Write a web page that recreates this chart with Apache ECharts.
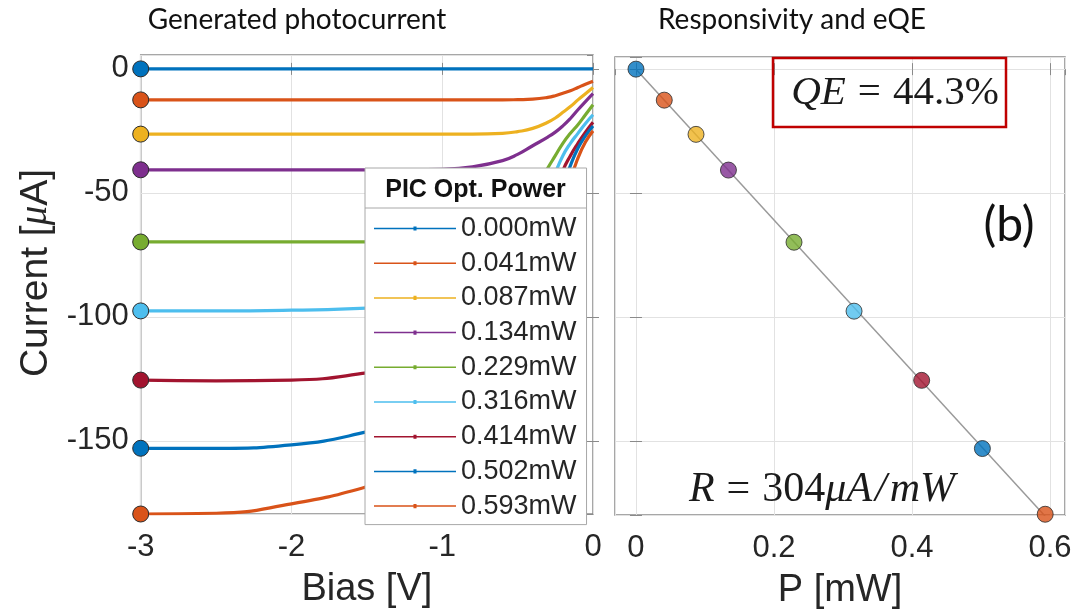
<!DOCTYPE html>
<html>
<head>
<meta charset="utf-8">
<script src="https://cdn.jsdelivr.net/npm/echarts@6/dist/echarts.min.js"></script>
<style>
html, body { margin: 0; padding: 0; background: #fff; }
#chart { width: 1076px; height: 616px; }
</style>
</head>
<body>
<div id="chart"></div>
<script>
// bias sweep (V) shared by all IV curves
var bias = [-3, -2.5, -2, -1.5, -1.2, -1, -0.8, -0.6, -0.5, -0.4, -0.3, -0.25, -0.2, -0.15, -0.1, -0.05, 0];

// photocurrent (uA) per optical power
var i0000 = [0, 0, 0, 0, 0, 0, 0, 0, 0, 0, 0, 0, 0, 0, 0, 0, 0];
var i0041 = [-12.5, -12.5, -12.5, -12.5, -12.5, -12.5, -12.5, -12.5, -12.4, -12.2, -11.5, -10.8, -9.8, -8.8, -7.5, -6.2, -5.0];
var i0087 = [-26.3, -26.3, -26.3, -26.3, -26.3, -26.3, -26.3, -26.0, -25.3, -24.0, -21.5, -19.8, -17.5, -15.2, -12.5, -10.0, -7.5];
var i0134 = [-40.7, -40.7, -40.7, -40.7, -40.7, -40.5, -39.5, -37.0, -34.5, -31.0, -27.5, -25.5, -23.0, -20.0, -16.5, -13.2, -10.0];
var i0229 = [-69.8, -69.8, -69.8, -69.8, -69.6, -69.2, -68.0, -63.5, -58.5, -51.0, -40.0, -35.0, -30.0, -26.0, -22.5, -18.5, -14.5];
var i0316 = [-97.6, -97.6, -97.3, -96.5, -95.0, -93.0, -89.0, -81.0, -74.0, -64.0, -50.0, -42.0, -35.0, -30.0, -26.0, -22.0, -18.5];
var i0414 = [-125.5, -125.8, -125.5, -122.6, -119.0, -115.0, -108.0, -97.0, -88.0, -76.0, -60.0, -50.0, -41.0, -35.0, -30.0, -25.5, -21.5];
var i0502 = [-153.0, -153.0, -151.6, -146.4, -141.0, -135.0, -126.0, -113.0, -103.0, -90.0, -72.0, -60.0, -48.0, -39.0, -32.0, -27.0, -23.0];
var i0593 = [-179.5, -179.2, -175.4, -168.5, -162.0, -156.0, -146.0, -132.0, -121.0, -106.0, -86.0, -72.0, -58.0, -45.0, -36.0, -29.5, -25.0];

var powerLabels = ['0.000mW', '0.041mW', '0.087mW', '0.134mW', '0.229mW', '0.316mW', '0.414mW', '0.502mW', '0.593mW'];
var power = [0, 0.041, 0.087, 0.134, 0.229, 0.316, 0.414, 0.502, 0.593];

// linear fit R = 304 uA/mW
var fitPower = [0, 0.593];
var fitCurrent = [0, -180.3];

var colors = ['#0072BD', '#D95319', '#EDB120', '#7E2F8E', '#77AC30', '#4DBEEE', '#A2142F', '#0072BD', '#D95319'];

var curves = [i0000, i0041, i0087, i0134, i0229, i0316, i0414, i0502, i0593];

var dom = document.getElementById('chart');
var myChart = echarts.init(dom);

var axisGray = '#8a8a8a';
var gridGray = '#e2e2e2';
var txt = '#262626';
var sans = 'Liberation Sans, Arial, sans-serif';
var serif = 'Liberation Serif, serif';

var series = curves.map(function (c, k) {
    return {
        name: powerLabels[k],
        type: 'line',
        xAxisIndex: 0,
        yAxisIndex: 0,
        smooth: 0.5,
        symbol: 'none',
        showSymbol: true,
        lineStyle: { width: 3.2, color: colors[k] },
        itemStyle: { color: colors[k] },
        data: bias.map(function (b, i) {
            if (i === 0) {
                return {
                    value: [b, c[i]],
                    symbol: 'circle',
                    symbolSize: 16,
                    itemStyle: { color: colors[k], borderColor: '#2b2b2b', borderWidth: 1 }
                };
            }
            return [b, c[i]];
        })
    };
});

series.push({
    name: 'fit',
    type: 'line',
    xAxisIndex: 2,
    yAxisIndex: 2,
    symbol: 'none',
    lineStyle: { width: 1.5, color: '#9a9a9a' },
    data: fitPower.map(function (p, i) { return [p, fitCurrent[i]]; }),
    z: 2
});

series.push({
    name: 'points',
    type: 'scatter',
    xAxisIndex: 2,
    yAxisIndex: 2,
    symbolSize: 16,
    data: power.map(function (p, k) {
        return {
            value: [p, curves[k][0]],
            itemStyle: { color: colors[k], borderColor: '#2b2b2b', borderWidth: 1 }
        };
    }),
    z: 3
});

function mirrorX(grid, min, max, extra) {
    var a = {
        type: 'value', gridIndex: grid, position: 'top', min: min, max: max,
        axisLine: { show: false },
        axisTick: { show: true, inside: true, length: 6, lineStyle: { color: axisGray } },
        axisLabel: { show: false },
        splitLine: { show: false }
    };
    for (var key in extra) a[key] = extra[key];
    return a;
}
function mirrorY(grid, min, max) {
    return {
        type: 'value', gridIndex: grid, position: 'right', min: min, max: max, splitNumber: 4,
        axisLine: { show: false },
        axisTick: { show: true, inside: true, length: 6, lineStyle: { color: axisGray } },
        axisLabel: { show: false },
        splitLine: { show: false }
    };
}

var mathRich = function (size) {
    return {
        i: { fontSize: size, fontStyle: 'italic', fontFamily: serif, fill: '#1a1a1a' },
        n: { fontSize: size, fontFamily: serif, fill: '#1a1a1a' },
        e: { fontSize: size, fontFamily: serif, fill: '#1a1a1a', padding: [0, 12, 0, 12] },
        s: { fontSize: size, fontStyle: 'italic', fontFamily: serif, fill: '#1a1a1a', padding: [0, 3, 0, 3] }
    };
};

option = {
    animation: false,
    backgroundColor: '#fff',
    grid: [
        { left: 140.7, right: 483, top: 55, bottom: 102, show: true, borderColor: axisGray, borderWidth: 1.5 },
        { left: 615, right: 11, top: 57, bottom: 101, show: true, borderColor: axisGray, borderWidth: 1.5 }
    ],
    xAxis: [
        {
            type: 'value', gridIndex: 0, min: -3, max: 0, interval: 1,
            axisLine: { show: false },
            axisTick: { show: true, inside: true, length: 6, lineStyle: { color: axisGray } },
            axisLabel: { fontSize: 31, color: txt, fontFamily: sans, margin: 18 },
            splitLine: { show: true, lineStyle: { color: gridGray, width: 1 } },
            name: 'Bias [V]', nameLocation: 'middle', nameGap: 57,
            nameTextStyle: { fontSize: 38, color: txt, fontFamily: sans }
        },
        mirrorX(0, -3, 0, { interval: 1 }),
        {
            type: 'value', gridIndex: 1, min: -0.0304, max: 0.6217, splitNumber: 3,
            axisLine: { show: false },
            axisTick: { show: true, inside: true, length: 6, lineStyle: { color: axisGray } },
            axisLabel: { fontSize: 31, color: txt, fontFamily: sans, margin: 18, showMinLabel: false, showMaxLabel: false },
            splitLine: { show: true, lineStyle: { color: gridGray, width: 1 } },
            name: 'P [mW]', nameLocation: 'middle', nameGap: 57,
            nameTextStyle: { fontSize: 38, color: txt, fontFamily: sans }
        },
        mirrorX(1, -0.0304, 0.6217, { splitNumber: 3 })
    ],
    yAxis: [
        {
            type: 'value', gridIndex: 0, min: -179.5, max: 5.6, splitNumber: 4,
            axisLine: { show: false },
            axisTick: { show: true, inside: true, length: 6, lineStyle: { color: axisGray } },
            axisLabel: { fontSize: 31, color: txt, fontFamily: sans, margin: 12, showMinLabel: false, showMaxLabel: false },
            splitLine: { show: true, lineStyle: { color: gridGray, width: 1 } }
        },
        mirrorY(0, -179.5, 5.6),
        {
            type: 'value', gridIndex: 1, min: -179.8, max: 4.9, splitNumber: 4,
            axisLine: { show: false },
            axisTick: { show: true, inside: true, length: 6, lineStyle: { color: axisGray } },
            axisLabel: { show: false },
            splitLine: { show: true, lineStyle: { color: gridGray, width: 1 } }
        },
        mirrorY(1, -179.8, 4.9)
    ],
    legend: {
        orient: 'vertical',
        left: 365,
        top: 168,
        padding: [47, 10, 5, 9],
        backgroundColor: '#fff',
        borderColor: '#a8a8a8',
        borderWidth: 1,
        itemWidth: 82,
        itemHeight: 5,
        itemGap: 7.7,
        selectedMode: false,
        icon: 'path://M0,5h80v1.5h-80z M38.5,3.75h3v4h-3z',
        itemStyle: { borderWidth: 0 },
        textStyle: { fontSize: 27, lineHeight: 25, fontFamily: sans, color: txt },
        data: powerLabels
    },
    graphic: [
        { type: 'text', z: 10, style: { text: 'Generated photocurrent', x: 297, y: 20, align: 'center', verticalAlign: 'middle', font: '28px Lato, sans-serif', fill: '#111' } },
        { type: 'text', z: 10, style: { text: 'Responsivity and eQE', x: 792, y: 20, align: 'center', verticalAlign: 'middle', font: '28px Lato, sans-serif', fill: '#111' } },
        {
            type: 'text', z: 10, x: 36, y: 273, rotation: Math.PI / 2,
            style: {
                text: 'Current [{i|μ}A]', x: 0, y: 0, align: 'center', verticalAlign: 'middle',
                font: '39px Liberation Sans, Arial, sans-serif', fill: txt,
                rich: { i: { fontSize: 39, fontStyle: 'italic', fontFamily: serif, fill: txt } }
            }
        },
        { type: 'text', z: 10, style: { text: 'PIC Opt. Power', x: 475.5, y: 190, align: 'center', verticalAlign: 'middle', font: 'bold 25px Liberation Sans, Arial, sans-serif', fill: '#111' } },
        { type: 'line', z: 10, shape: { x1: 365, y1: 208, x2: 586, y2: 208 }, style: { stroke: '#a8a8a8', lineWidth: 1 } },
        { type: 'rect', z: 10, shape: { x: 773, y: 58, width: 233, height: 69 }, style: { fill: 'none', stroke: '#c00000', lineWidth: 2.5 } },
        {
            type: 'text', z: 10,
            style: {
                text: '{i|QE}{e|=}{n|44.3%}', x: 895, y: 93, align: 'center', verticalAlign: 'middle',
                rich: mathRich(41)
            }
        },
        { type: 'text', z: 10, style: { text: '(b)', x: 1009, y: 226, align: 'center', verticalAlign: 'middle', font: '48px Lato, sans-serif', fill: '#111' } },
        {
            type: 'text', z: 10,
            style: {
                text: '{i|R}{e|=}{n|304}{i|μA}{s|/}{i|mW}', x: 822, y: 490, align: 'center', verticalAlign: 'middle',
                rich: mathRich(42)
            }
        }
    ],
    series: series
};

if (option && typeof option === 'object') {
    myChart.setOption(option, true);
}
</script>
</body>
</html>
